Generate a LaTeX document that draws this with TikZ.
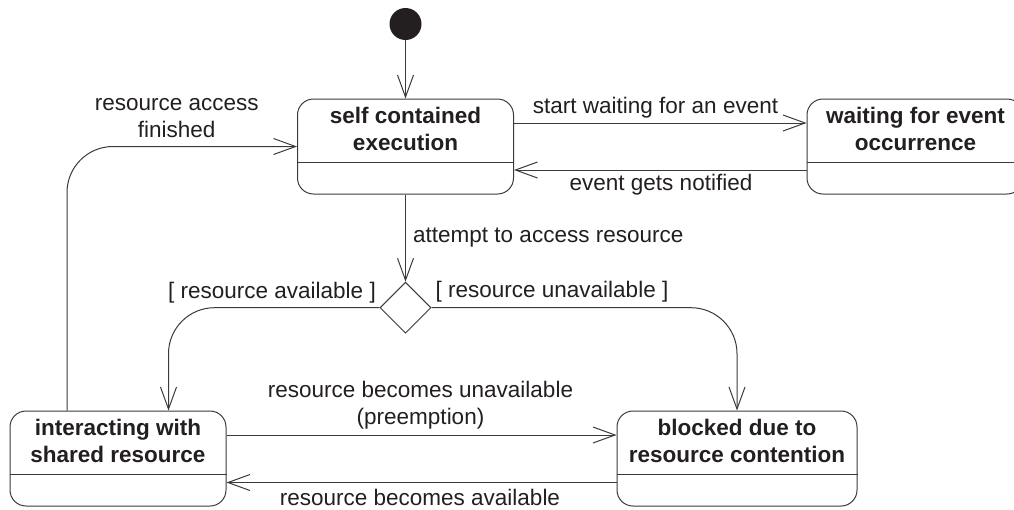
\documentclass[tikz,border=0pt]{standalone}
\usepackage{fontspec}
\setmainfont{Liberation Sans}
\usetikzlibrary{arrows.meta,shapes.geometric}
\newcommand{\twoline}[2]{\rule{0pt}{17pt}#1\\#2\rule[-6pt]{0pt}{6pt}}
\definecolor{ink}{HTML}{231F20}
\definecolor{linec}{HTML}{3A3A3A}
\begin{document}
\begin{tikzpicture}[x=1pt,y=-1pt,
  every node/.style={text=ink, font=\fontsize{22.5}{27}\selectfont, inner sep=0pt},
  statebox/.style={draw=linec, line width=1pt, rounded corners=16pt, minimum height=95pt, minimum width=216pt},
  statetitle/.style={font=\fontsize{22.5}{27}\selectfont\bfseries, align=center},
  lbl/.style={align=center},
  tr/.style={draw=linec, line width=1pt, -{Straight Barb[length=22pt,width=16pt]}},
  divider/.style={draw=linec, line width=1pt}]
\useasboundingbox (0,0) rectangle (1014,509);
% states
\node[circle, fill=ink, minimum size=32pt] (init) at (405.5,24) {};
\node[statebox] (sce) at (405.5,146.5) {};
\node[statetitle] (sce-t) at (405.5,131) {\twoline{self contained}{execution}};
\draw[divider] ([yshift=-16pt]sce.west) -- ([yshift=-16pt]sce.east);
\node[statebox] (wait) at (915,146.5) {};
\node[statetitle] (wait-t) at (915.5,131) {\twoline{waiting for event}{occurrence}};
\draw[divider] ([yshift=-16pt]wait.west) -- ([yshift=-16pt]wait.east);
\node[statebox] (inter) at (118,458.5) {};
\node[statetitle] (inter-t) at (118,443) {\twoline{interacting with}{shared resource}};
\draw[divider] ([yshift=-16pt]inter.west) -- ([yshift=-16pt]inter.east);
\node[statebox, minimum width=240pt] (blk) at (737,458.5) {};
\node[statetitle] (blk-t) at (737,443) {\twoline{blocked due to}{resource contention}};
\draw[divider] ([yshift=-16pt]blk.west) -- ([yshift=-16pt]blk.east);
\node[diamond, draw=linec, line width=1pt, minimum width=51pt, minimum height=51pt] (dec) at (405.5,307.7) {};
% transitions
\draw[tr] (init) -- (sce);
\draw[tr] ([yshift=23.5pt]sce.east) -- ([yshift=23.5pt]wait.west);
\draw[tr] ([yshift=-23.5pt]wait.west) -- ([yshift=-23.5pt]sce.east);
\draw[tr] (sce) -- (dec);
\draw[tr, rounded corners=46pt] (dec.west) -| ([xshift=50.5pt]inter.north);
\draw[tr, rounded corners=46pt] (dec.east) -| (blk.north);
\draw[tr, rounded corners=46pt] ([xshift=-51pt]inter.north) |- (sce.west);
\draw[tr] ([yshift=23.5pt]inter.east) -- ([yshift=23.5pt]blk.west);
\draw[tr] ([yshift=-24pt]blk.west) -- ([yshift=-24pt]inter.east);
% labels
\node[anchor=base] (l-start) at (655.5,113) {start waiting for an event};
\node[anchor=base] (l-notif) at (661,190) {event gets notified};
\node[lbl] (l-fin) at (176.7,118) {\twoline{resource access}{finished}};
\node[anchor=base west] (l-att) at (413,242.7) {attempt to access resource};
\node[anchor=base] (l-av) at (272,298.3) {[ resource available ]};
\node[anchor=base] (l-unav) at (552,297.7) {[ resource unavailable ]};
\node[lbl] (l-pre) at (420.5,405) {\twoline{resource becomes unavailable}{(preemption)}};
\node[anchor=base] (l-avail) at (420,505) {resource becomes available};
\end{tikzpicture}
\end{document}
